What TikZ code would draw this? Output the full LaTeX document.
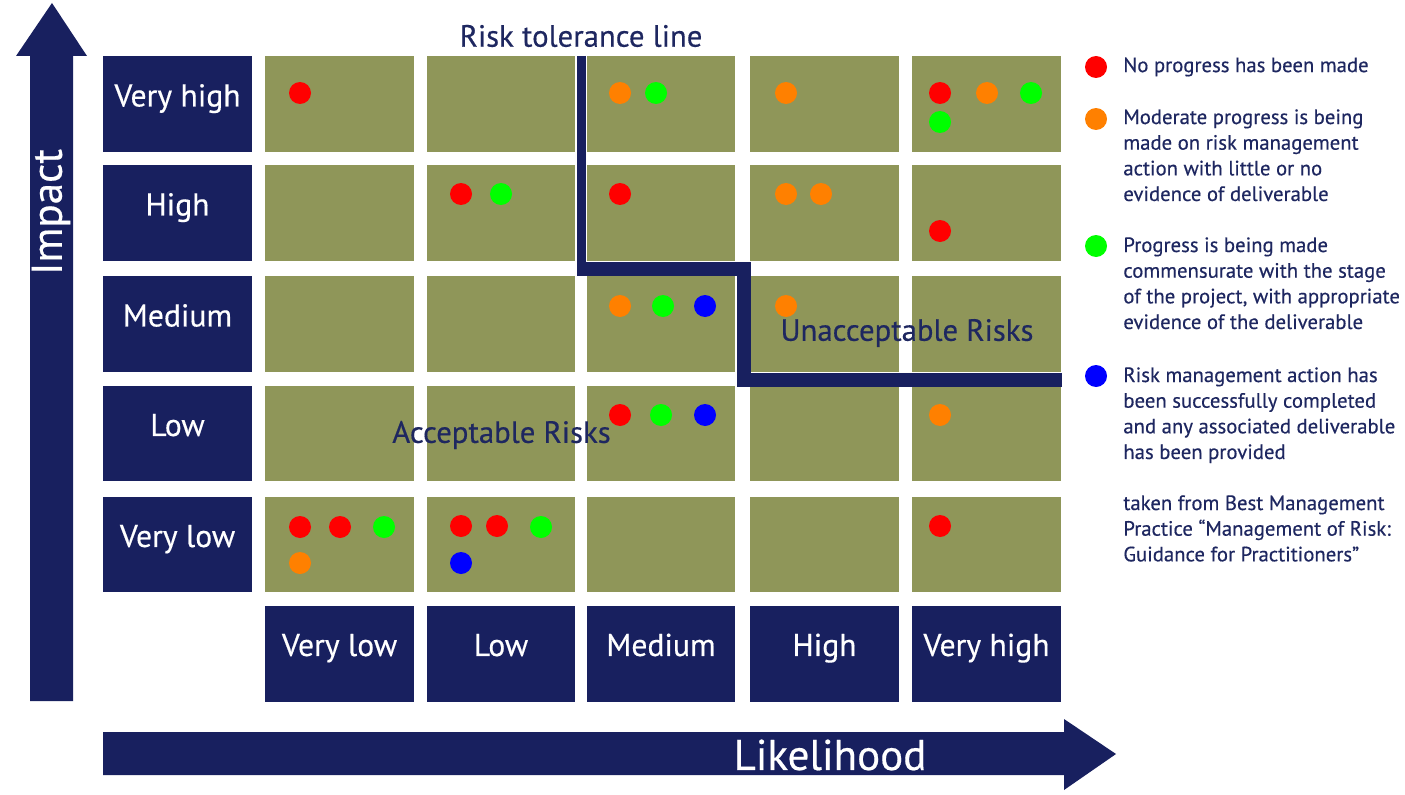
\documentclass[tikz,border=0pt]{standalone}
\usepackage{fontspec}
\setmainfont{PT Sans}[FakeBold=0.4]
\definecolor{navy}{HTML}{18205F}
\definecolor{olive}{HTML}{8F9659}
\definecolor{ink}{HTML}{1E2760}
\definecolor{rdot}{HTML}{FF0000}
\definecolor{odot}{HTML}{FF8000}
\definecolor{gdot}{HTML}{00FF00}
\definecolor{bdot}{HTML}{0000FF}
\tikzset{
  hdr/.style={fill=navy, text=white, minimum width=2.98cm, minimum height=1.92cm, inner sep=0pt, text height=0.72em, text depth=0.44em, font=\fontsize{18}{20}\selectfont},
  cell/.style={fill=olive, minimum width=2.98cm, minimum height=1.92cm, inner sep=0pt},
  dot/.style={circle, fill=#1, minimum size=0.44cm, inner sep=0pt},
  axis/.style={text=white, inner sep=0pt, font=\fontsize{24.5}{26}\selectfont},
  zone/.style={text=ink, inner sep=0pt, font=\fontsize{17.5}{19}\selectfont},
  note/.style={anchor=north west, align=left, text=ink, inner sep=0pt, font=\fontsize{11.8}{14.6}\selectfont}
}

\begin{document}
\begin{tikzpicture}[x=0.02cm, y=-0.02cm]
    \useasboundingbox (0,0) rectangle (1405,794);
    % axes
    \fill [navy] (30,701) -- (30,56) -- (16,56) -- (52,3) -- (87,56) -- (73,56) -- (73,701) -- cycle;
    \fill [navy] (103,732) -- (1064,732) -- (1064,719) -- (1116,754) -- (1064,790) -- (1064,775) -- (103,775) -- cycle;
    \node [axis, rotate=90] (impact) at (51,212) {Impact};
    \node [axis] (likelihood) at (830,755) {Likelihood};
    % grid
    \foreach \y [count=\r] in {104,213,324,433.5,544.5} {
        \foreach \x [count=\c] in {339.5,501,661,824.5,986.5} {
            \node [cell] (c\r\c) at (\x,\y) {};
        }
    }
    \foreach \t/\y [count=\r] in {Very high/104, High/213, Medium/324, Low/433.5, Very low/544.5}
        \node [hdr] (imp\r) at (177.5,\y) {\t};
    \foreach \t/\x [count=\c] in {Very low/339.5, Low/501, Medium/661, High/824.5, Very high/986.5}
        \node [hdr] (lik\c) at (\x,653.5) {\t};
    % tolerance line
    \draw [navy, line width=0.18cm] (581.5,56) -- (581.5,276);
    \draw [navy, line width=0.28cm] (577,269) -- (743.5,269) -- (743.5,379.5) -- (1062,379.5);
    \node [zone] (tol) at (581,36) {Risk tolerance line};
    \node [zone] (unacc) at (907,333) {Unacceptable Risks};
    \node [zone] (acc) at (501.5,435) {Acceptable Risks};
    % risks
    \foreach \col/\x/\y in {rdot/300/93, odot/620/93, gdot/656/93, odot/786/93, rdot/940/93, odot/987/93, gdot/1031/93, gdot/940/122,
        rdot/461/194, gdot/501/194, rdot/620/194, odot/786/194, odot/821/194, rdot/940/231,
        odot/620/306, gdot/663/306, bdot/705/306, odot/786/306,
        rdot/620/415, gdot/661/415, bdot/705/415, odot/940/415,
        rdot/300/527, rdot/340/527, gdot/384/527, odot/300/563,
        rdot/461/526, rdot/497/526, gdot/541/527, bdot/461/563, rdot/940/526}
        \node [dot=\col] at (\x,\y) {};
    % legend
    \node [dot=rdot] (leg1) at (1096,67) {};
    \node [dot=odot] (leg2) at (1096,119) {};
    \node [dot=gdot] (leg3) at (1096,246) {};
    \node [dot=bdot] (leg4) at (1096,376) {};
    \node [note] (txt1) at (1123,57) {No progress has been made};
    \node [note] (txt2) at (1123,109) {Moderate progress is being\\made on risk management\\action with little or no\\evidence of deliverable};
    \node [note] (txt3) at (1123,237) {Progress is being made\\commensurate with the stage\\of the project, with appropriate\\evidence of the deliverable};
    \node [note] (txt4) at (1123,367) {Risk management action has\\been successfully completed\\and any associated deliverable\\has been provided};
    \node [note] (txt5) at (1123,495) {taken from Best Management\\Practice “Management of Risk:\\Guidance for Practitioners”};
\end{tikzpicture}
\end{document}
